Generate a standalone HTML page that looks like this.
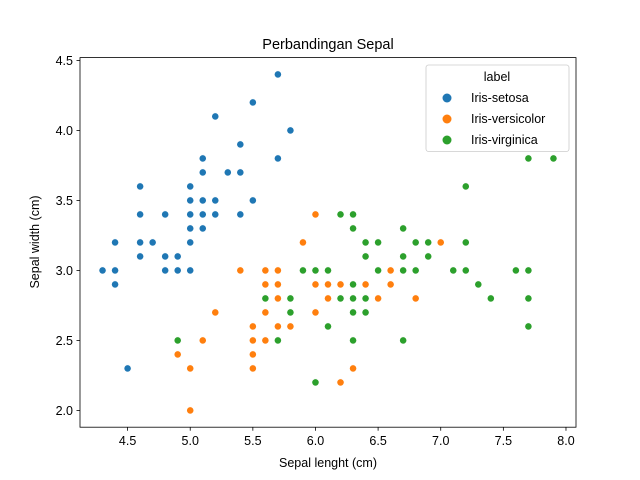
<!DOCTYPE html>
<html><head><meta charset="utf-8"><style>
body{margin:0;background:#fff}
svg{display:block;font-family:"Liberation Sans","DejaVu Sans",sans-serif}
</style></head><body>
<svg id="chart" width="640" height="480" viewBox="0 0 640 480">
<rect width="640" height="480" fill="#fff"/>
<text x="328" y="49" font-size="14.5" text-anchor="middle">Perbandingan Sepal</text>
<g id="marks"></g>
<rect x="80" y="57.6" width="496" height="369.6" fill="none" stroke="#000" stroke-width="0.8"/>
<g id="xt"></g>
<g id="yt"></g>
<text x="328" y="467" font-size="12.5" text-anchor="middle">Sepal lenght (cm)</text>
<text transform="translate(39,242) rotate(-90)" font-size="12.5" text-anchor="middle">Sepal width (cm)</text>
<g>
<rect x="426" y="65" width="143" height="86.5" rx="2.5" fill="#fff" fill-opacity="0.8" stroke="#ccc" stroke-width="0.8"/>
<text x="497" y="81" font-size="12.5" text-anchor="middle">label</text>
<circle cx="447" cy="98" r="4.5" fill="#1f77b4"/>
<text x="471" y="102" font-size="12.5">Iris-setosa</text>
<circle cx="447" cy="119" r="4.5" fill="#ff7f0e"/>
<text x="471" y="123" font-size="12.5">Iris-versicolor</text>
<circle cx="447" cy="140" r="4.5" fill="#2ca02c"/>
<text x="471" y="144" font-size="12.5">Iris-virginica</text>
</g>
</svg>
<script>
const setosaLen=[5.1,4.9,4.7,4.6,5.0,5.4,4.6,5.0,4.4,4.9,5.4,4.8,4.8,4.3,5.8,5.7,5.4,5.1,5.7,5.1,5.4,5.1,4.6,5.1,4.8,5.0,5.0,5.2,5.2,4.7,4.8,5.4,5.2,5.5,4.9,5.0,5.5,4.9,4.4,5.1,5.0,4.5,4.4,5.0,5.1,4.8,5.1,4.6,5.3,5.0];
const setosaWid=[3.5,3.0,3.2,3.1,3.6,3.9,3.4,3.4,2.9,3.1,3.7,3.4,3.0,3.0,4.0,4.4,3.9,3.5,3.8,3.8,3.4,3.7,3.6,3.3,3.4,3.0,3.4,3.5,3.4,3.2,3.1,3.4,4.1,4.2,3.1,3.2,3.5,3.1,3.0,3.4,3.5,2.3,3.2,3.5,3.8,3.0,3.8,3.2,3.7,3.3];
const versiLen=[7.0,6.4,6.9,5.5,6.5,5.7,6.3,4.9,6.6,5.2,5.0,5.9,6.0,6.1,5.6,6.7,5.6,5.8,6.2,5.6,5.9,6.1,6.3,6.1,6.4,6.6,6.8,6.7,6.0,5.7,5.5,5.5,5.8,6.0,5.4,6.0,6.7,6.3,5.6,5.5,5.5,6.1,5.8,5.0,5.6,5.7,5.7,6.2,5.1,5.7];
const versiWid=[3.2,3.2,3.1,2.3,2.8,2.8,3.3,2.4,2.9,2.7,2.0,3.0,2.2,2.9,2.9,3.1,3.0,2.7,2.2,2.5,3.2,2.8,2.5,2.8,2.9,3.0,2.8,3.0,2.9,2.6,2.4,2.4,2.7,2.7,3.0,3.4,3.1,2.3,3.0,2.5,2.6,3.0,2.6,2.3,2.7,3.0,2.9,2.9,2.5,2.8];
const virgLen=[6.3,5.8,7.1,6.3,6.5,7.6,4.9,7.3,6.7,7.2,6.5,6.4,6.8,5.7,5.8,6.4,6.5,7.7,7.7,6.0,6.9,5.6,7.7,6.3,6.7,7.2,6.2,6.1,6.4,7.2,7.4,7.9,6.4,6.3,6.1,7.7,6.3,6.4,6.0,6.9,6.7,6.9,5.8,6.8,6.7,6.7,6.3,6.5,6.2,5.9];
const virgWid=[3.3,2.7,3.0,2.9,3.0,3.0,2.5,2.9,2.5,3.6,3.2,2.7,3.0,2.5,2.8,3.2,3.0,3.8,2.6,2.2,3.2,2.8,2.8,2.7,3.3,3.2,2.8,3.0,2.8,3.0,2.8,3.8,2.8,2.8,2.6,3.0,3.4,3.1,3.0,3.1,3.1,3.1,2.7,3.2,3.3,3.0,2.5,3.0,3.4,3.0];
const xTicks=[4.5,5.0,5.5,6.0,6.5,7.0,7.5,8.0];
const yTicks=[2.0,2.5,3.0,3.5,4.0,4.5];
const NS="http://www.w3.org/2000/svg";
const X0=4.12,X1=8.08,Y0=1.88,Y1=4.52;
function xs(v){return 80+(v-X0)/(X1-X0)*496;}
function ys(v){return 427.2-(v-Y0)/(Y1-Y0)*369.6;}
const marks=document.getElementById('marks');
function plot(L,W,color,name){
  for(let i=0;i<L.length;i++){
    const c=document.createElementNS(NS,'circle');
    c.setAttribute('cx',xs(L[i]));c.setAttribute('cy',ys(W[i]));
    c.setAttribute('r',3.6);c.setAttribute('fill',color);
    c.setAttribute('stroke','#fff');c.setAttribute('stroke-width',0.6);
    
    
    marks.appendChild(c);
  }
}
plot(setosaLen,setosaWid,'#1f77b4','setosa');
plot(versiLen,versiWid,'#ff7f0e','versicolor');
plot(virgLen,virgWid,'#2ca02c','virginica');
const xt=document.getElementById('xt'),yt=document.getElementById('yt');
xTicks.forEach(v=>{
  const l=document.createElementNS(NS,'line');
  l.setAttribute('x1',xs(v));l.setAttribute('x2',xs(v));l.setAttribute('y1',427.2);l.setAttribute('y2',430.7);
  l.setAttribute('stroke','#000');l.setAttribute('stroke-width',0.8);
  
  
  xt.appendChild(l);
  const t=document.createElementNS(NS,'text');
  t.setAttribute('x',xs(v));t.setAttribute('y',445);t.setAttribute('font-size',12.5);t.setAttribute('text-anchor','middle');
  t.textContent=v.toFixed(1);
  
  
  xt.appendChild(t);
});
yTicks.forEach(v=>{
  const l=document.createElementNS(NS,'line');
  l.setAttribute('x1',76.5);l.setAttribute('x2',80);l.setAttribute('y1',ys(v));l.setAttribute('y2',ys(v));
  l.setAttribute('stroke','#000');l.setAttribute('stroke-width',0.8);
  
  
  yt.appendChild(l);
  const t=document.createElementNS(NS,'text');
  t.setAttribute('x',73);t.setAttribute('y',ys(v)+4.5);t.setAttribute('font-size',12.5);t.setAttribute('text-anchor','end');
  t.textContent=v.toFixed(1);
  
  
  yt.appendChild(t);
});
</script>
</body></html>
